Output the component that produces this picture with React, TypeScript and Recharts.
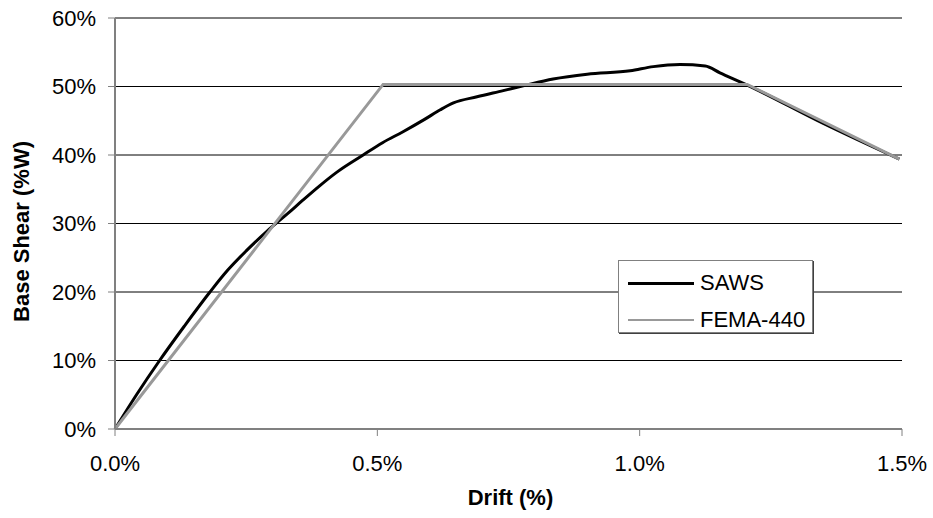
import { LineChart, Line, XAxis, YAxis, CartesianGrid } from 'recharts'

// drift (%) vs base shear (%W)
const sawsDrift = [0, 0.041, 0.085, 0.132, 0.181, 0.215, 0.25, 0.29, 0.33, 0.358, 0.39, 0.423, 0.473, 0.51, 0.549, 0.59, 0.62, 0.645, 0.69, 0.74, 0.778, 0.835, 0.9, 0.982, 1.026, 1.077, 1.125, 1.153, 1.205, 1.35, 1.495]
const sawsShear = [0, 5.0, 10.0, 15.0, 20.0, 23.2, 26.0, 28.9, 31.5, 33.4, 35.5, 37.5, 40, 41.8, 43.4, 45.2, 46.6, 47.6, 48.5, 49.4, 50.1, 51.1, 51.8, 52.3, 52.9, 53.2, 53.0, 52.0, 50.2, 44.6, 39.4]

const femaDrift = [0, 0.511, 1.205, 1.495]
const femaShear = [0, 50.3, 50.3, 39.4]

const driftTicks = [0, 0.5, 1.0, 1.5]
const shearTicks = [0, 10, 20, 30, 40, 50, 60]

const toPoints = (xs: number[], ys: number[]) => xs.map((x, i) => ({ drift: x, shear: ys[i] }))

const series = [
  { name: 'SAWS', data: toPoints(sawsDrift, sawsShear), color: '#000000', width: 3, legendWidth: 3, curve: 'monotone' as const },
  { name: 'FEMA-440', data: toPoints(femaDrift, femaShear), color: '#999999', width: 3, legendWidth: 2, curve: 'linear' as const },
]

const FONT = '"Liberation Sans", Arial, sans-serif'
const AXIS_GRAY = '#808080'

export default function App() {
  return (
    <div style={{ position: 'absolute', left: 0, top: 0, width: 933, height: 518, fontFamily: FONT }}>
      <LineChart width={933} height={518} margin={{ top: 18, right: 31, left: 0, bottom: 0 }}>
        <CartesianGrid vertical={false} stroke="#000" strokeWidth={1} />
        <XAxis
          type="number"
          dataKey="drift"
          domain={[0, 1.5]}
          ticks={driftTicks}
          tickFormatter={(v: number) => v.toFixed(1) + '%'}
          height={89}
          tickSize={7}
          tickMargin={19}
          axisLine={{ stroke: AXIS_GRAY, strokeWidth: 2 }}
          tickLine={{ stroke: AXIS_GRAY }}
          tick={{ fill: '#000', fontSize: 22, fontFamily: FONT }}
          allowDuplicatedCategory={false}
          label={{
            content: (props: any) => {
              const vb = props.viewBox
              return (
                <text x={vb.x + vb.width / 2 + 2} y={497} textAnchor="middle" dominantBaseline="central"
                  fontSize={22} fontWeight="bold" fontFamily={FONT} fill="#000">Drift (%)</text>
              )
            },
          }}
        />
        <YAxis
          type="number"
          domain={[0, 60]}
          ticks={shearTicks}
          tickFormatter={(v: number) => v + '%'}
          width={115}
          tickSize={7}
          tickMargin={12}
          axisLine={{ stroke: AXIS_GRAY, strokeWidth: 2 }}
          tickLine={{ stroke: AXIS_GRAY }}
          tick={{ fill: '#000', fontSize: 22, fontFamily: FONT }}
          label={{
            content: (props: any) => {
              const vb = props.viewBox
              const cy = vb.y + vb.height / 2 + 8
              return (
                <text x={21} y={cy} transform={`rotate(-90 21 ${cy})`} textAnchor="middle" dominantBaseline="central"
                  fontSize={22} fontWeight="bold" fontFamily={FONT} fill="#000">Base Shear (%W)</text>
              )
            },
          }}
        />
        {series.map(s => (
          <Line
            key={s.name}
            data={s.data}
            dataKey="shear"
            name={s.name}
            type={s.curve}
            stroke={s.color}
            strokeWidth={s.width}
            dot={false}
            activeDot={false}
            isAnimationActive={false}
          />
        ))}
      </LineChart>

      {/* legend box */}
      <div
        style={{
          position: 'absolute',
          left: 618,
          top: 260,
          width: 193,
          height: 71,
          border: '1px solid ' + AXIS_GRAY,
          boxShadow: '1px 1px 0 #404040',
          background: '#fff',
        }}
      >
        {series.map((s, i) => (
          <div key={s.name} style={{ position: 'absolute', left: 0, top: 22 + i * 37 - 13, height: 26, width: '100%' }}>
            <div style={{ position: 'absolute', left: 9, top: 13 - s.legendWidth / 2, width: 66, height: s.legendWidth, background: s.color }} />
            <div style={{ position: 'absolute', left: 81, top: 0, lineHeight: '26px', fontSize: 22, color: '#000', whiteSpace: 'nowrap' }}>
              {s.name}
            </div>
          </div>
        ))}
      </div>
    </div>
  )
}
